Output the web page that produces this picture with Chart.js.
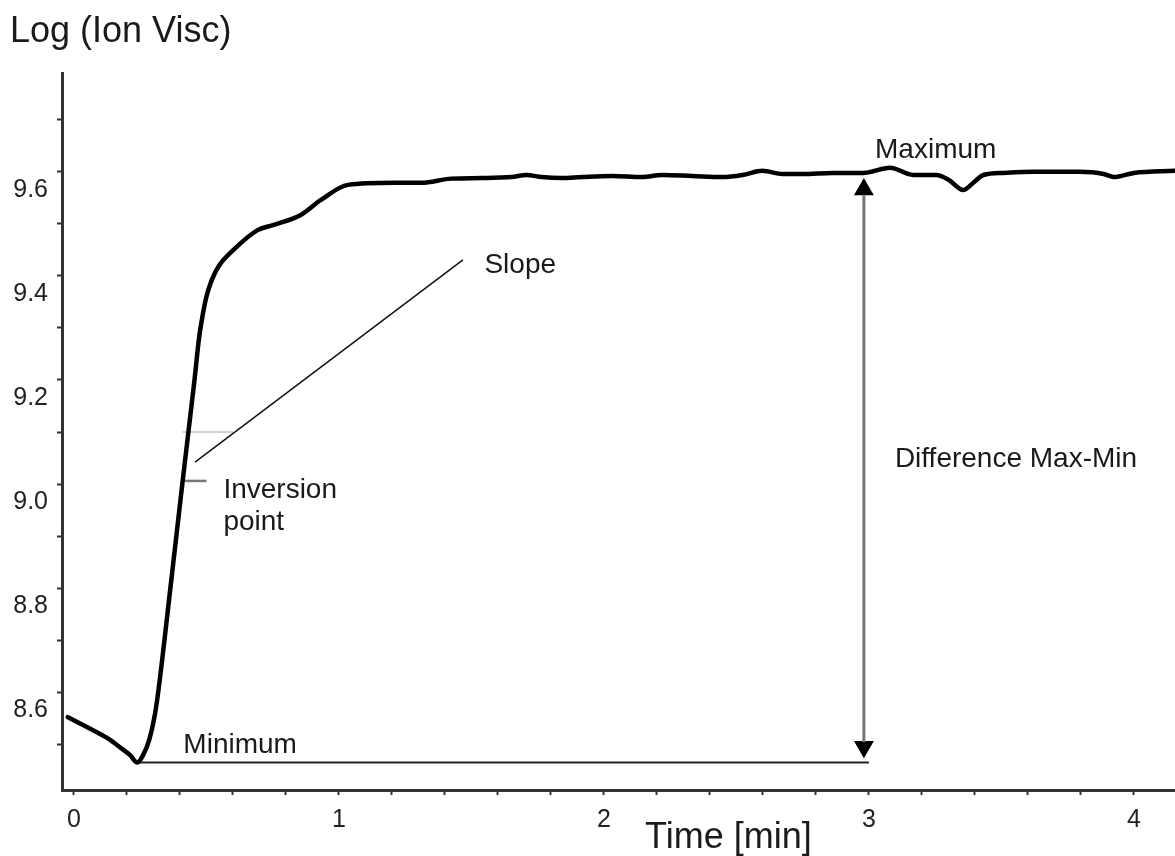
<!DOCTYPE html>
<html>
<head>
<meta charset="utf-8">
<title>Log (Ion Visc)</title>
<script src="https://cdn.jsdelivr.net/npm/chart.js@4.4.1/dist/chart.umd.min.js"></script>
<style>
  body { margin: 0; background: #fff; }
  #wrap { position: relative; width: 1175px; height: 856px; }
</style>
</head>
<body>
<div id="wrap"><canvas id="chart"></canvas></div>
<script>
// curve (time in min, log ion viscosity)
var timeVals = [-0.023, 0.049, 0.125, 0.174, 0.212, 0.239, 0.260, 0.285, 0.303, 0.318, 0.364, 0.409, 0.432, 0.455, 0.472,
  0.486, 0.500, 0.520, 0.548, 0.602, 0.693, 0.754, 0.856, 0.932, 1.034, 1.208, 1.311,
  1.424, 1.538, 1.652, 1.708, 1.765, 1.841, 1.917, 2.030, 2.144, 2.220, 2.333, 2.447, 2.523, 2.598, 2.674, 2.750,
  2.864, 2.977, 3.080, 3.167, 3.254, 3.300, 3.356, 3.394, 3.432, 3.508, 3.621, 3.792, 3.886, 3.924, 4.000, 4.155];
var viscVals = [8.552, 8.533, 8.512, 8.494, 8.479, 8.465, 8.478, 8.510, 8.550, 8.600, 8.800, 9.000, 9.100, 9.200, 9.280,
  9.325, 9.360, 9.392, 9.420, 9.450, 9.488, 9.498, 9.517, 9.546, 9.575, 9.579, 9.579,
  9.587, 9.588, 9.590, 9.594, 9.590, 9.588, 9.590, 9.592, 9.590, 9.594, 9.592, 9.590, 9.594, 9.602, 9.596, 9.596,
  9.598, 9.598, 9.608, 9.594, 9.594, 9.585, 9.565, 9.579, 9.594, 9.598, 9.600, 9.600, 9.596, 9.590, 9.598, 9.602];

// annotation lines
var minLineX = [0.239, 3.0];
var minLineY = [8.465, 8.465];
var slopeX = [0.457, 1.468];
var slopeY = [9.042, 9.431];
var guideX = [0.41, 0.60];
var guideY = [9.1, 9.1];
var inversionX = [0.42, 0.50];
var inversionY = [9.006, 9.006];
var diffX = [2.981, 2.981];
var diffY = [9.556, 8.504];
var arrowHeadX = [2.981, 2.981];
var arrowHeadY = [9.566, 8.495];

// axes
var xTicks = [0, 0.2, 0.4, 0.6, 0.8, 1, 1.2, 1.4, 1.6, 1.8, 2, 2.2, 2.4, 2.6, 2.8, 3, 3.2, 3.4, 3.6, 3.8, 4];
var xTickLabels = ['0', '', '', '', '', '1', '', '', '', '', '2', '', '', '', '', '3', '', '', '', '', '4'];
var yTicks = [8.5, 8.6, 8.7, 8.8, 8.9, 9.0, 9.1, 9.2, 9.3, 9.4, 9.5, 9.6, 9.7];
var yTickLabels = ['', '8.6', '', '8.8', '', '9.0', '', '9.2', '', '9.4', '', '9.6', ''];

// text labels, placed in data coords
var notes = [
  { text: 'Slope', x: 1.549, y: 9.406 },
  { text: 'Maximum', x: 3.023, y: 9.627 },
  { text: 'Minimum', x: 0.413, y: 8.483 },
  { text: 'Difference Max-Min', x: 3.098, y: 9.033 },
  { text: 'Inversion', x: 0.564, y: 8.973 },
  { text: 'point', x: 0.564, y: 8.912 }
];

function pts(xs, ys) {
  return xs.map(function (x, i) { return { x: x, y: ys[i] }; });
}

var FONT = '"Liberation Sans", Arial, sans-serif';

// draws the free text (titles + notes)
var textPlugin = {
  id: 'textPlugin',
  afterDraw: function (chart) {
    var ctx = chart.ctx;
    var xs = chart.scales.x, ys = chart.scales.y;
    ctx.save();
    ctx.fillStyle = '#1a1a1a';
    ctx.textBaseline = 'alphabetic';
    ctx.textAlign = 'left';
    ctx.font = '28px ' + FONT;
    notes.forEach(function (n) {
      ctx.fillText(n.text, xs.getPixelForValue(n.x), ys.getPixelForValue(n.y));
    });
    ctx.font = '36px ' + FONT;
    ctx.fillText('Log (Ion Visc)', 10, 42);
    ctx.fillText('Time [min]', 645, 848);
    ctx.restore();
  }
};

var ctx = document.getElementById('chart').getContext('2d');
var chart = new Chart(ctx, {
  type: 'scatter',
  data: {
    datasets: [
      { data: pts(timeVals, viscVals), showLine: true, borderColor: '#000', borderWidth: 4.5,
        pointRadius: 0, cubicInterpolationMode: 'monotone', borderJoinStyle: 'round', borderCapStyle: 'round' },
      { data: pts(minLineX, minLineY), showLine: true, borderColor: '#222', borderWidth: 2, pointRadius: 0 },
      { data: pts(slopeX, slopeY), showLine: true, borderColor: '#111', borderWidth: 1.5, pointRadius: 0 },
      { data: pts(guideX, guideY), showLine: true, borderColor: '#c4c4c4', borderWidth: 1.5, pointRadius: 0 },
      { data: pts(inversionX, inversionY), showLine: true, borderColor: '#777', borderWidth: 2.5, pointRadius: 0 },
      { data: pts(diffX, diffY), showLine: true, borderColor: '#777', borderWidth: 3, pointRadius: 0 },
      { data: pts(arrowHeadX, arrowHeadY), showLine: false, pointStyle: 'triangle', pointRadius: 11.5,
        rotation: [0, 180], backgroundColor: '#000', borderColor: '#000', borderWidth: 0 }
    ]
  },
  options: {
    responsive: true,
    maintainAspectRatio: false,
    animation: false,
    devicePixelRatio: 1,
    // autoPadding off, otherwise the arrow heads eat into the right edge
    layout: { autoPadding: false, padding: { top: 73, left: 0, right: 0, bottom: 0 } },
    plugins: { legend: { display: false }, tooltip: { enabled: false } },
    scales: {
      x: {
        type: 'linear',
        min: -0.045,
        max: 4.155,
        afterBuildTicks: function (scale) { scale.ticks = xTicks.map(function (v) { return { value: v }; }); },
        afterFit: function (scale) {
          scale.height = 66;
          // no extra room for the last tick label, plot runs to the edge
          scale.paddingLeft = 0;
          scale.paddingRight = 0;
        },
        ticks: {
          color: '#222',
          font: { family: FONT, size: 25 },
          padding: 10,
          maxRotation: 0,
          autoSkip: false,
          callback: function (v, i) { return xTickLabels[i]; }
        },
        grid: { drawOnChartArea: false, drawTicks: true, tickLength: 5, tickColor: '#333', tickWidth: 2 },
        border: { color: '#333', width: 3 }
      },
      y: {
        type: 'linear',
        min: 8.412,
        max: 9.790,
        afterBuildTicks: function (scale) { scale.ticks = yTicks.map(function (v) { return { value: v }; }); },
        afterFit: function (scale) {
          scale.width = 62;
          scale.paddingTop = 0;
          scale.paddingBottom = 0;
        },
        ticks: {
          color: '#222',
          font: { family: FONT, size: 25 },
          padding: 9,
          labelOffset: 18,
          autoSkip: false,
          callback: function (v, i) { return yTickLabels[i]; }
        },
        grid: { drawOnChartArea: false, drawTicks: true, tickLength: 5, tickColor: '#333', tickWidth: 2 },
        border: { color: '#333', width: 3 }
      }
    }
  },
  plugins: [textPlugin]
});
</script>
</body>
</html>
